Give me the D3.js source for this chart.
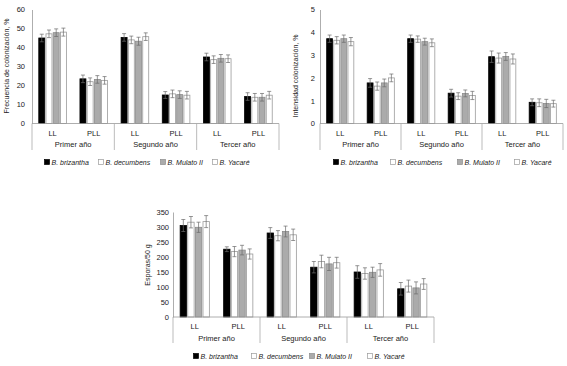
<!DOCTYPE html>
<html>
<head>
<meta charset="utf-8">
<script src="https://cdn.jsdelivr.net/npm/d3@7"></script>
<style>
  html, body { margin: 0; padding: 0; background: #fff; }
  svg { display: block; }
  text { font-family: "Liberation Sans", Arial, sans-serif; fill: #222; }
</style>
</head>
<body>
<svg id="chart" width="567" height="366"></svg>
<script>
// ---------- DATA ----------
const categories = ["Primer año", "Segundo año", "Tercer año"];
const subcategories = ["LL", "PLL"];
const seriesNames = ["B. brizantha", "B. decumbens", "B. Mulato II", "B. Yacaré"];

// rows: Primer LL, Primer PLL, Segundo LL, Segundo PLL, Tercer LL, Tercer PLL
const frecuencia = [
  [45.0, 47.2, 47.8, 48.1],
  [23.5, 22.0, 23.2, 22.7],
  [45.3, 44.0, 43.3, 45.7],
  [15.0, 15.6, 15.2, 14.9],
  [35.0, 33.6, 34.3, 34.1],
  [14.2, 13.8, 13.8, 14.9]
];
const frecuenciaErr = [
  [2.0, 2.0, 2.0, 2.1],
  [2.0, 2.0, 2.0, 2.0],
  [2.0, 2.0, 2.1, 2.0],
  [1.8, 2.0, 2.0, 2.0],
  [2.0, 2.0, 2.0, 2.0],
  [2.0, 2.0, 2.0, 2.0]
];

const intensidad = [
  [3.72, 3.65, 3.72, 3.59],
  [1.78, 1.64, 1.78, 2.00],
  [3.72, 3.70, 3.59, 3.54],
  [1.33, 1.20, 1.32, 1.23],
  [2.93, 2.87, 2.94, 2.83],
  [0.93, 0.91, 0.88, 0.87]
];
const intensidadErr = [
  [0.16, 0.16, 0.16, 0.18],
  [0.19, 0.18, 0.17, 0.17],
  [0.16, 0.14, 0.15, 0.17],
  [0.17, 0.15, 0.15, 0.18],
  [0.25, 0.22, 0.17, 0.22],
  [0.15, 0.17, 0.18, 0.15]
];

const esporas = [
  [305, 316, 299, 318],
  [226, 218, 223, 210],
  [280, 271, 285, 274],
  [166, 185, 177, 181],
  [150, 145, 149, 157],
  [94, 103, 97, 110]
];
const esporasErr = [
  [20, 19, 17, 20],
  [8, 17, 16, 17],
  [18, 17, 18, 19],
  [19, 21, 22, 18],
  [21, 19, 17, 21],
  [21, 20, 20, 18]
];

const yTicks1 = [0, 10, 20, 30, 40, 50, 60];
const yTicks2 = [0, 1, 2, 3, 4, 5];
const yTicks3 = [0, 50, 100, 150, 200, 250, 300, 350];

// ---------- STYLE ----------
const fills = ["#000000", "#ffffff", "#ababab", "#ffffff"];
const strokes = ["#000000", "#9a9a9a", "#8c8c8c", "#9a9a9a"];

const svg = d3.select("#chart");
svg.append("rect").attr("width", 567).attr("height", 366).attr("fill", "#fff");

function drawChart(cfg) {
  const g = svg.append("g");
  const y = d3.scaleLinear().domain([0, cfg.ticks[cfg.ticks.length - 1]]).range([cfg.yBot, cfg.yTop]);
  const xGroup = d3.scaleBand().domain(categories).range([cfg.x0, cfg.x1]).padding(0);
  const xSub = d3.scaleBand().domain(subcategories).range([0, xGroup.bandwidth()]).padding(0);
  const sw = xSub.bandwidth();
  const xSer = d3.scaleBand().domain(seriesNames).range([sw * 0.155, sw * 0.845]).paddingInner(0.06);

  // y axis
  const ax = d3.axisLeft(y).tickValues(cfg.ticks).tickFormat(d3.format("d"))
    .tickSize(0).tickPadding(cfg.tickPad).tickSizeOuter(0);
  const axg = g.append("g").attr("transform", `translate(${cfg.x0},0)`).call(ax);
  axg.select(".domain").attr("stroke", "#999").attr("stroke-width", 0.8);
  axg.selectAll("text").style("font-size", "7.5px").attr("fill", "#222")
     .style("font-family", '"Liberation Sans", Arial, sans-serif');

  // y label
  g.append("text")
    .attr("transform", `translate(${cfg.ylabelX},${cfg.ylabelY}) rotate(-90)`)
    .attr("text-anchor", "middle")
    .style("font-size", "7px")
    .text(cfg.ylabel);

  // bars
  const rows = [];
  categories.forEach((c, ci) => subcategories.forEach((s, si) => {
    rows.push({ c, s, vals: cfg.values[ci * 2 + si], errs: cfg.errors[ci * 2 + si] });
  }));
  rows.forEach(r => {
    const gx = xGroup(r.c) + xSub(r.s);
    seriesNames.forEach((n, k) => {
      const v = r.vals[k];
      g.append("rect")
        .attr("x", gx + xSer(n) + 0.4)
        .attr("y", y(v))
        .attr("width", xSer.bandwidth() - 0.8)
        .attr("height", y(0) - y(v))
        .attr("fill", fills[k])
        .attr("stroke", strokes[k])
        .attr("stroke-width", 0.8);
    });
    seriesNames.forEach((n, k) => {
      const v = r.vals[k], e = r.errs[k];
      const cx = gx + xSer(n) + xSer.bandwidth() / 2;
      const col = "#6a6a6a";
      g.append("line").attr("x1", cx).attr("x2", cx).attr("y1", y(v - e)).attr("y2", y(v + e))
        .attr("stroke", col).attr("stroke-width", 0.7);
      [v - e, v + e].forEach(t => {
        g.append("line").attr("x1", cx - 2).attr("x2", cx + 2).attr("y1", y(t)).attr("y2", y(t))
          .attr("stroke", col).attr("stroke-width", 0.7);
      });
    });
  });

  // x axis line
  g.append("line").attr("x1", cfg.x0).attr("x2", cfg.x1).attr("y1", y(0)).attr("y2", y(0))
    .attr("stroke", "#999").attr("stroke-width", 0.8);
  // group separators
  const bounds = categories.map(c => xGroup(c)).concat([cfg.x1]);
  bounds.forEach(bx => {
    g.append("line").attr("x1", bx).attr("x2", bx).attr("y1", y(0)).attr("y2", cfg.sepBottom)
      .attr("stroke", "#aaa").attr("stroke-width", 0.8);
  });
  // sub labels
  categories.forEach(c => subcategories.forEach(s => {
    g.append("text")
      .attr("x", xGroup(c) + xSub(s) + sw / 2)
      .attr("y", cfg.subY)
      .attr("text-anchor", "middle")
      .style("font-size", "7.5px")
      .text(s);
  }));
  // group labels
  categories.forEach(c => {
    g.append("text")
      .attr("x", xGroup(c) + xGroup.bandwidth() / 2)
      .attr("y", cfg.groupY)
      .attr("text-anchor", "middle")
      .style("font-size", "7.5px")
      .text(c);
  });
  // legend
  seriesNames.forEach((n, k) => {
    const lx = cfg.legendX[k];
    g.append("rect")
      .attr("x", lx - 2.5).attr("y", cfg.legendY - 2.5)
      .attr("width", 5).attr("height", 5)
      .attr("fill", fills[k]).attr("stroke", strokes[k]).attr("stroke-width", 0.7);
    g.append("text")
      .attr("x", lx + 4.5).attr("y", cfg.legendY + 2.5)
      .style("font-size", "7px")
      .style("font-style", "italic")
      .text(n);
  });
}

drawChart({
  x0: 32, x1: 279, yTop: 9.5, yBot: 123.5, ticks: yTicks1, tickPad: 7,
  values: frecuencia, errors: frecuenciaErr,
  sepBottom: 150, subY: 136, groupY: 147, legendY: 162,
  legendX: [47, 101, 163, 215],
  ylabel: "Frecuencia de colonización, %", ylabelX: 9, ylabelY: 66
});

drawChart({
  x0: 320, x1: 563, yTop: 9.5, yBot: 123.5, ticks: yTicks2, tickPad: 5,
  values: intensidad, errors: intensidadErr,
  sepBottom: 150, subY: 136, groupY: 147, legendY: 162,
  legendX: [336, 393, 460, 517],
  ylabel: "Intensidad colonización, %", ylabelX: 298, ylabelY: 76
});

drawChart({
  x0: 173, x1: 434, yTop: 212, yBot: 317, ticks: yTicks3, tickPad: 4,
  values: esporas, errors: esporasErr,
  sepBottom: 343, subY: 329, groupY: 341, legendY: 356,
  legendX: [196, 254, 312, 370],
  ylabel: "Esporas/50 g", ylabelX: 150, ylabelY: 265
});
</script>
</body>
</html>
